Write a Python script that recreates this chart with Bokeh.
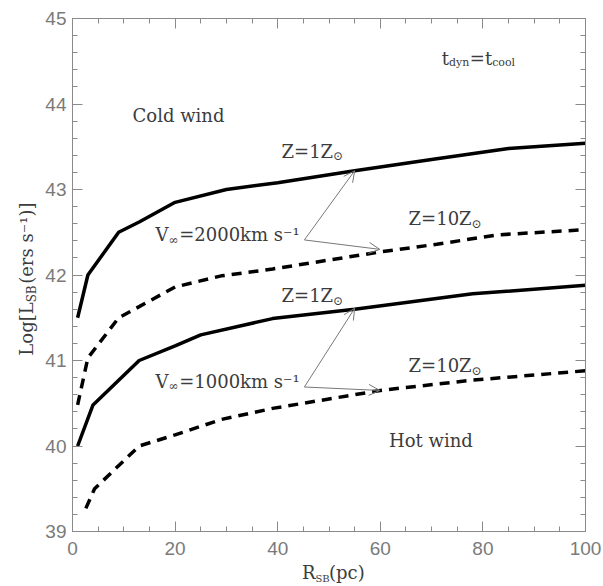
import math
from bokeh.plotting import figure
from bokeh.models import Range1d, SingleIntervalTicker, LinearAxis, Arrow, OpenHead, CustomJSTickFormatter
from bokeh.layouts import row, column
from bokeh.core.properties import value
from bokeh.embed import file_html
from bokeh.resources import INLINE

# ---- data ----
r_2000_z1 = [1, 3, 9, 13, 20, 30, 40, 55, 70, 85, 100]
l_2000_z1 = [41.5, 42.0, 42.5, 42.62, 42.85, 43.0, 43.08, 43.22, 43.35, 43.48, 43.54]

r_2000_z10 = [1, 3, 9, 13, 20, 29, 39, 60, 71, 83, 100]
l_2000_z10 = [40.48, 41.03, 41.5, 41.63, 41.86, 41.99, 42.07, 42.27, 42.36, 42.47, 42.53]

r_1000_z1 = [1, 4, 13, 20, 25, 39, 55, 78, 100]
l_1000_z1 = [40.0, 40.48, 41.0, 41.17, 41.3, 41.49, 41.6, 41.78, 41.88]

r_1000_z10 = [2.6, 4.3, 13, 20, 25, 29, 39, 60, 78, 100]
l_1000_z10 = [39.27, 39.5, 40.0, 40.13, 40.23, 40.31, 40.44, 40.65, 40.77, 40.88]

# arrows: start point, end on Z=1 curve, end on Z=10 curve
arrow_start_2000 = (45.2, 42.41)
arrow_ends_2000 = [(55.0, 43.22), (59.9, 42.30)]
arrow_start_1000 = (45.2, 40.69)
arrow_ends_1000 = [(55.0, 41.61), (59.9, 40.65)]

x_ticks_interval = 20
y_ticks_interval = 1

SERIF = "DejaVu Serif"
TXT = "#3c3c3c"
AX = "#8a8a8a"
SUB = 12

p = figure(width=563, height=563, x_range=Range1d(0, 100), y_range=Range1d(39, 45),
           output_backend="svg", toolbar_location=None,
           min_border_left=32, min_border_right=18, min_border_top=18, min_border_bottom=32)
p.grid.visible = False
p.outline_line_color = AX
p.background_fill_color = "white"
p.border_fill_color = "white"


def style_axis(ax, show_labels):
    ax.axis_line_color = AX
    ax.major_tick_line_color = AX
    ax.minor_tick_line_color = AX
    ax.major_tick_in = 10
    ax.major_tick_out = 0
    ax.minor_tick_in = 5
    ax.minor_tick_out = 0
    ax.major_label_text_font = "Liberation Sans"
    ax.major_label_text_font_size = "19px"
    ax.major_label_text_color = "#7a7a7a"
    if not show_labels:
        ax.formatter = CustomJSTickFormatter(code="return ''")
        ax.major_label_standoff = 0


p.xaxis.ticker = SingleIntervalTicker(interval=x_ticks_interval, num_minor_ticks=4)
p.yaxis.ticker = SingleIntervalTicker(interval=y_ticks_interval, num_minor_ticks=5)
for ax in p.xaxis + p.yaxis:
    style_axis(ax, True)
p.xaxis.major_label_standoff = 10
p.yaxis.major_label_standoff = 6

top = LinearAxis(ticker=SingleIntervalTicker(interval=x_ticks_interval, num_minor_ticks=4))
right = LinearAxis(ticker=SingleIntervalTicker(interval=y_ticks_interval, num_minor_ticks=5))
style_axis(top, False)
style_axis(right, False)
p.add_layout(top, "above")
p.add_layout(right, "right")

# ---- curves ----
p.line(r_2000_z1, l_2000_z1, line_color="black", line_width=3.5)
p.line(r_2000_z10, l_2000_z10, line_color="black", line_width=3.5, line_dash="10 7")
p.line(r_1000_z1, l_1000_z1, line_color="black", line_width=3.5)
p.line(r_1000_z10, l_1000_z10, line_color="black", line_width=3.5, line_dash="10 7")

# ---- arrows ----
for (sx, sy), ends in [(arrow_start_2000, arrow_ends_2000), (arrow_start_1000, arrow_ends_1000)]:
    for ex, ey in ends:
        p.add_layout(Arrow(x_start=sx, y_start=sy, x_end=ex, y_end=ey,
                           line_color="#777777", line_width=1,
                           end=OpenHead(size=11, line_color="#777777", line_width=1)))


def txt(fig, x, y, s, size=18, align="left", angle=0.0):
    fig.text(x=[x], y=[y], text=[s], text_font=value(SERIF), text_font_size=value(f"{size}px"),
             text_align=align, text_baseline="middle", text_color=TXT, angle=angle)


# region labels
txt(p, 11.7, 43.87, "Cold wind")
txt(p, 61.7, 40.06, "Hot wind")

# t_dyn = t_cool
txt(p, 73.4, 44.53, "t", align="right")
txt(p, 73.4, 44.48, "dyn", size=11)
txt(p, 81.8, 44.53, "=t", align="right")
txt(p, 81.8, 44.48, "cool", size=11)

# metallicity labels
for yy in (43.45, 41.76):
    txt(p, 50.8, yy, "Z=1Z", align="right")
    txt(p, 50.8, yy - 0.06, "\u2299", size=SUB)
for yy in (42.66, 40.94):
    txt(p, 77.8, yy, "Z=10Z", align="right")
    txt(p, 77.8, yy - 0.06, "\u2299", size=SUB)

# velocity labels
for yy, v in ((42.47, "2000"), (40.76, "1000")):
    txt(p, 18.7, yy, "V", align="right")
    txt(p, 18.7, yy - 0.06, "\u221e", size=SUB)
    txt(p, 20.8, yy, "=" + v + "km s\u207b\u00b9")


def blank(width, height, x_range, y_range, **borders):
    f = figure(width=width, height=height, x_range=x_range, y_range=y_range,
               output_backend="svg", toolbar_location=None,
               x_axis_location=None, y_axis_location=None,
               min_border_left=borders.get("left", 0), min_border_right=borders.get("right", 0),
               min_border_top=borders.get("top", 0), min_border_bottom=borders.get("bottom", 0))
    f.grid.visible = False
    f.outline_line_color = None
    f.background_fill_color = "white"
    f.border_fill_color = "white"
    return f


# y-axis title panel (shares the y range of the main plot)
ylab = blank(40, 586, Range1d(0, 40), p.y_range, top=18, bottom=55)
txt(ylab, 26, 41.68, "Log[L", align="right", angle=math.pi / 2)
txt(ylab, 31, 41.68, "SB", size=SUB, angle=math.pi / 2)
txt(ylab, 26, 41.897, "(ers s\u207b\u00b9)]", angle=math.pi / 2)

# x-axis title panel (shares the x range of the main plot)
xlab = blank(563, 23, p.x_range, Range1d(0, 23), left=32, right=18)
txt(xlab, 47.37, 14, "R", align="right")
txt(xlab, 47.37, 8.5, "SB", size=10)
txt(xlab, 50.0, 14, "(pc)")

layout = row(ylab, column(p, xlab, spacing=0), spacing=0)
open("out.html", "w").write(file_html(layout, INLINE))
